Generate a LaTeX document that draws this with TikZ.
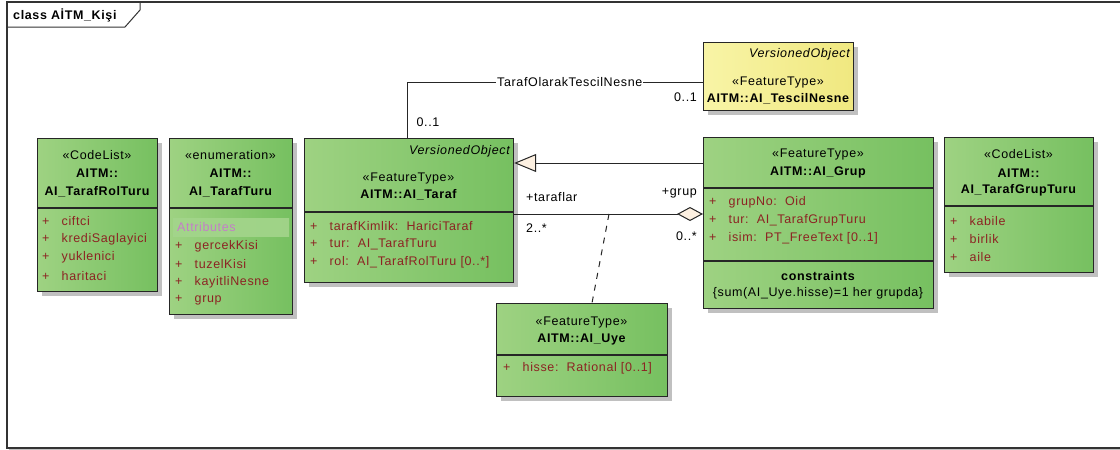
\documentclass[tikz,border=0pt]{standalone}
\usepackage{fontspec}
\setmainfont[LetterSpace=5]{Liberation Sans}
\usetikzlibrary{positioning,shadows,arrows.meta}

\definecolor{clsgreenL}{RGB}{158,210,130}
\definecolor{clsgreenR}{RGB}{118,192,96}
\definecolor{clsyellowL}{RGB}{248,244,166}
\definecolor{clsyellowR}{RGB}{240,232,128}
\definecolor{attrred}{RGB}{140,35,35}
\definecolor{attrpink}{RGB}{196,126,200}
\definecolor{bandgreen}{RGB}{162,212,138}
\definecolor{tipfill}{RGB}{253,240,225}
\definecolor{shadowgray}{RGB}{192,192,192}

\tikzset{
  txt/.style={font=\fontsize{12.5}{14}\selectfont, inner sep=0pt},
  hdr/.style={font=\fontsize{12.5}{14}\selectfont\bfseries, inner sep=0pt},
  attr/.style={txt, text=attrred, anchor=west},
  box/.style={draw=black!85, line width=1.2pt, left color=clsgreenL, right color=clsgreenR,
    anchor=north west, inner sep=0pt,
    drop shadow={shadow xshift=4pt, shadow yshift=-4pt, fill=shadowgray, opacity=1}},
  divider/.style={draw=black!85, line width=1.2pt},
  conn/.style={draw=black!85, line width=1pt}
}
\newcommand{\plusitem}[1]{\makebox[19.5pt][l]{+}#1}

\begin{document}
\begin{tikzpicture}[x=1pt,y=-1pt]
  \useasboundingbox[fill=white] (0,0) rectangle (1120,450);

  % frame
  \draw[line width=2.5pt, draw=shadowgray] (9,449) -- (1122,449);
  \draw[line width=1.2pt, draw=black!80] (1122,2) -- (7,2) -- (7,448) -- (1122,448);
  \draw[line width=1pt, draw=black!80] (7,2) -- (140,2) -- (140,10) -- (125,27) -- (7,27);
  \node[hdr, anchor=west] (title) at (13,15) {class AİTM\_Kişi};

  % classes
  \node[box, minimum width=120pt, minimum height=153pt] (rolturu) at (37,138) {};
  \node[box, minimum width=123pt, minimum height=176pt] (tarafturu) at (169,138) {};
  \node[box, minimum width=209pt, minimum height=144pt] (taraf) at (304,138) {};
  \node[box, left color=clsyellowL, right color=clsyellowR, minimum width=150pt, minimum height=68pt] (tescil) at (703,42) {};
  \node[box, minimum width=230pt, minimum height=171pt] (grup) at (703,137) {};
  \node[box, minimum width=149pt, minimum height=135pt] (grupturu) at (944,137) {};
  \node[box, minimum width=171pt, minimum height=93pt] (uye) at (496,303) {};

  \draw[divider] (rolturu.west |- 0,208) -- (rolturu.east |- 0,208);
  \draw[divider] (tarafturu.west |- 0,208) -- (tarafturu.east |- 0,208);
  \draw[divider] (taraf.west |- 0,212) -- (taraf.east |- 0,212);
  \draw[divider] (grup.west |- 0,188) -- (grup.east |- 0,188);
  \draw[divider] (grup.west |- 0,261) -- (grup.east |- 0,261);
  \draw[divider] (grupturu.west |- 0,206) -- (grupturu.east |- 0,206);
  \draw[divider] (uye.west |- 0,355) -- (uye.east |- 0,355);

  % AI_TarafRolTuru
  \node[txt] (rolturu-st) at (97,155) {«CodeList»};
  \node[hdr] (rolturu-pk) at (97,173) {AITM::};
  \node[hdr] (rolturu-nm) at (97,192) {AI\_TarafRolTuru};
  \node[attr] (rolturu-a1) at (42,221) {\plusitem{ciftci}};
  \node[attr] (rolturu-a2) at (42,239) {\plusitem{krediSaglayici}};
  \node[attr] (rolturu-a3) at (42,257) {\plusitem{yuklenici}};
  \node[attr] (rolturu-a4) at (42,276) {\plusitem{haritaci}};

  % AI_TarafTuru
  \node[txt] (tarafturu-st) at (230.5,155) {«enumeration»};
  \node[hdr] (tarafturu-pk) at (230.5,173) {AITM::};
  \node[hdr] (tarafturu-nm) at (230.5,192) {AI\_TarafTuru};
  \node[inner sep=0pt, anchor=north west, minimum width=116pt, minimum height=18pt,
    left color=bandgreen, right color=bandgreen!92!clsgreenR] (tarafturu-bg) at (173,218) {};
  \node[txt, text=attrpink, anchor=west] (tarafturu-band) at (177,227) {Attributes};
  \node[attr] (tarafturu-a1) at (175,246) {\plusitem{gercekKisi}};
  \node[attr] (tarafturu-a2) at (175,264) {\plusitem{tuzelKisi}};
  \node[attr] (tarafturu-a3) at (175,282) {\plusitem{kayitliNesne}};
  \node[attr] (tarafturu-a4) at (175,300) {\plusitem{grup}};

  % AI_Taraf
  \node[txt, anchor=east, font=\fontsize{12.5}{14}\selectfont\itshape] (taraf-vo) at (510,151) {VersionedObject};
  \node[txt] (taraf-st) at (408.5,178) {«FeatureType»};
  \node[hdr] (taraf-nm) at (408.5,195) {AITM::AI\_Taraf};
  \node[attr] (taraf-a1) at (310,226) {\plusitem{tarafKimlik:\ \ HariciTaraf}};
  \node[attr] (taraf-a2) at (310,244) {\plusitem{tur:\ \ AI\_TarafTuru}};
  \node[attr] (taraf-a3) at (310,262) {\plusitem{rol:\ \ AI\_TarafRolTuru [0..*]}};

  % AI_TescilNesne
  \node[txt, anchor=east, font=\fontsize{12.5}{14}\selectfont\itshape] (tescil-vo) at (850,54) {VersionedObject};
  \node[txt] (tescil-st) at (778,82) {«FeatureType»};
  \node[hdr] (tescil-nm) at (778,99) {AITM::AI\_TescilNesne};

  % AI_Grup
  \node[txt] (grup-st) at (818,154) {«FeatureType»};
  \node[hdr] (grup-nm) at (818,172) {AITM::AI\_Grup};
  \node[attr] (grup-a1) at (709,202) {\plusitem{grupNo:\ \ Oid}};
  \node[attr] (grup-a2) at (709,220) {\plusitem{tur:\ \ AI\_TarafGrupTuru}};
  \node[attr] (grup-a3) at (709,238) {\plusitem{isim:\ \ PT\_FreeText [0..1]}};
  \node[hdr] (grup-cs) at (818,276) {constraints};
  \node[txt] (grup-c1) at (818,293) {\{sum(AI\_Uye.hisse)=1 her grupda\}};

  % AI_TarafGrupTuru
  \node[txt] (grupturu-st) at (1018.5,154) {«CodeList»};
  \node[hdr] (grupturu-pk) at (1018.5,173) {AITM::};
  \node[hdr] (grupturu-nm) at (1018.5,190) {AI\_TarafGrupTuru};
  \node[attr] (grupturu-a1) at (950,221) {\plusitem{kabile}};
  \node[attr] (grupturu-a2) at (950,239) {\plusitem{birlik}};
  \node[attr] (grupturu-a3) at (950,257) {\plusitem{aile}};

  % AI_Uye
  \node[txt] (uye-st) at (581.5,322) {«FeatureType»};
  \node[hdr] (uye-nm) at (581.5,339) {AITM::AI\_Uye};
  \node[attr] (uye-a1) at (503,368) {\plusitem{hisse:\ \ Rational [0..1]}};

  % connectors
  \coordinate (tescilbend) at (407,82);
  \draw[conn] (taraf.north -| tescilbend) -- (tescilbend)
    -- node[txt, fill=white, inner xsep=1pt, pos=0.55] (tescil-as) {TarafOlarakTescilNesne} (tescil.west |- tescilbend);
  \node[txt] (tescil-m1) at (428,122) {0..1};
  \node[txt, anchor=east] (tescil-m2) at (697,97) {0..1};

  \draw[conn, -{Triangle[length=22pt, width=18pt, fill=tipfill]}] (grup.west |- 0,163) -- (taraf.east |- 0,163);

  \draw[conn, -{Diamond[length=26pt, width=14pt, fill=tipfill]}] (taraf.east |- 0,214) -- (grup.west |- 0,214);
  \node[txt, anchor=west] (agg-r1) at (526,197) {+taraflar};
  \node[txt, anchor=west] (agg-m1) at (526,228) {2..*};
  \node[txt, anchor=east] (agg-r2) at (697,193) {+grup};
  \node[txt, anchor=east] (agg-m2) at (697,236) {0..*};

  \coordinate (uyelink) at (609,214);
  \draw[conn, dash pattern=on 6pt off 6pt] (uyelink) -- (uye.north -| 592,0);
\end{tikzpicture}
\end{document}
